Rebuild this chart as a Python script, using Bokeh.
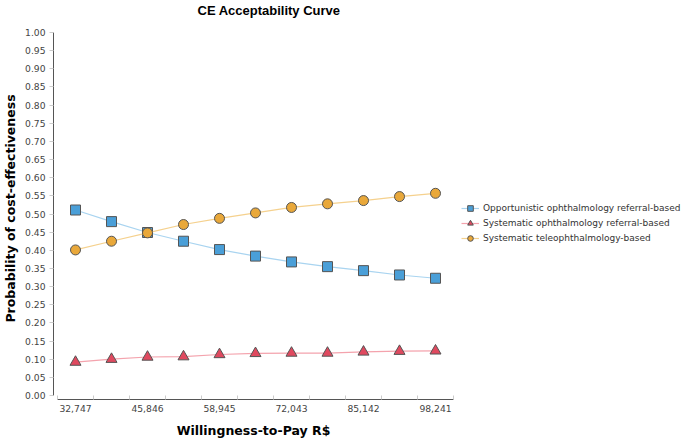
from bokeh.plotting import figure
from bokeh.models import (Range1d, FixedTicker, NumeralTickFormatter, Legend, LegendItem)
from bokeh.embed import file_html
from bokeh.resources import INLINE

# ---- data ----
wtp = [32747, 39296, 45846, 52395, 58945, 65494, 72043, 78593, 85142, 91692, 98241]
opportunistic = [0.511, 0.479, 0.449, 0.425, 0.402, 0.384, 0.368, 0.355, 0.344, 0.332, 0.323]
systematic_ref = [0.092, 0.100, 0.106, 0.107, 0.113, 0.116, 0.117, 0.117, 0.120, 0.122, 0.123]
teleophth = [0.401, 0.425, 0.448, 0.471, 0.488, 0.503, 0.518, 0.528, 0.537, 0.548, 0.557]
series_names = ["Opportunistic ophthalmology referral-based",
                "Systematic ophthalmology referral-based",
                "Systematic teleophthalmology-based"]
chart_title = "CE Acceptability Curve"
y_ticks = [round(i * 0.05, 2) for i in range(21)]

idx = list(range(len(wtp)))

FONT = "DejaVu Sans"

p = figure(frame_width=400, frame_height=382,
           min_border_left=45, min_border_top=0, min_border_right=10, min_border_bottom=33,
           x_range=Range1d(-0.5 - 4 / 36, len(wtp) - 0.5),
           y_range=Range1d(-4 / 363, 1.0 + 15 / 363),
           output_backend="svg", toolbar_location=None,
           title=chart_title)
p.outline_line_color = None
p.xgrid.visible = False
p.ygrid.visible = False

p.title.align = "left"
p.title.offset = 144
p.title.standoff = 0
p.title.text_font = "Liberation Sans"
p.title.text_font_style = "bold"
p.title.text_font_size = "13px"
p.title.text_color = "#000000"

# y axis
ya = p.yaxis[0]
ya.ticker = FixedTicker(ticks=y_ticks, minor_ticks=[])
ya.formatter = NumeralTickFormatter(format="0.00")
ya.bounds = (0, 1)
ya.axis_line_color = "#555555"
ya.major_tick_line_color = "#cccccc"
ya.major_tick_out = 4
ya.major_tick_in = 0
ya.major_label_standoff = 4
ya.major_label_text_font = FONT
ya.major_label_text_font_size = "9.2px"
ya.major_label_text_color = "#444444"
ya.axis_label = "Probability of cost-effectiveness"
ya.axis_label_text_font = FONT
ya.axis_label_text_font_style = "bold"
ya.axis_label_text_font_size = "12.5px"
ya.axis_label_text_color = "#000000"
ya.axis_label_standoff = 4

# x axis
xa = p.xaxis[0]
label_idx = idx[::2]
xa.ticker = FixedTicker(ticks=label_idx, minor_ticks=[i - 0.5 for i in idx] + [idx[-1] + 0.5])
xa.major_label_overrides = {i: f"{wtp[i]:,}" for i in label_idx}
xa.bounds = (-0.5, len(wtp) - 0.5)
xa.axis_line_color = "#555555"
xa.major_tick_line_color = None
xa.major_tick_out = 0
xa.major_tick_in = 0
xa.minor_tick_line_color = "#cccccc"
xa.minor_tick_in = 4
xa.minor_tick_out = 0
xa.major_label_standoff = 5
xa.major_label_text_font = FONT
xa.major_label_text_font_size = "9.2px"
xa.major_label_text_color = "#444444"
xa.axis_label = "Willingness-to-Pay R$"
xa.axis_label_text_font = FONT
xa.axis_label_text_font_style = "bold"
xa.axis_label_text_font_size = "12.5px"
xa.axis_label_text_color = "#000000"
xa.axis_label_standoff = 8

# series
l1 = p.line(idx, opportunistic, line_color="#a9d4f0", line_width=1.2)
s1 = p.scatter(idx, opportunistic, marker="square", size=10, fill_color="#4a9fd8",
               line_color="#555555", line_width=1)
l2 = p.line(idx, systematic_ref, line_color="#f4a3ad", line_width=1.2)
s2 = p.scatter(idx, systematic_ref, marker="triangle", size=11, fill_color="#e0495f",
               line_color="#555555", line_width=1)
l3 = p.line(idx, teleophth, line_color="#f5d18e", line_width=1.2)
s3 = p.scatter(idx, teleophth, marker="circle", size=10, fill_color="#e9a83a",
               line_color="#555555", line_width=1)

legend = Legend(items=[LegendItem(label=series_names[0], renderers=[l1, s1]),
                       LegendItem(label=series_names[1], renderers=[l2, s2]),
                       LegendItem(label=series_names[2], renderers=[l3, s3])],
                location=(8, 154))
legend.border_line_color = None
legend.background_fill_alpha = 0
legend.label_text_font = FONT
legend.label_text_font_size = "9px"
legend.label_text_color = "#333333"
legend.glyph_width = 18
legend.glyph_height = 14
legend.label_height = 14
legend.spacing = 1
legend.padding = 0
legend.margin = 10
legend.label_standoff = 4
p.add_layout(legend, "right")

open("out.html", "w").write(file_html(p, INLINE))
